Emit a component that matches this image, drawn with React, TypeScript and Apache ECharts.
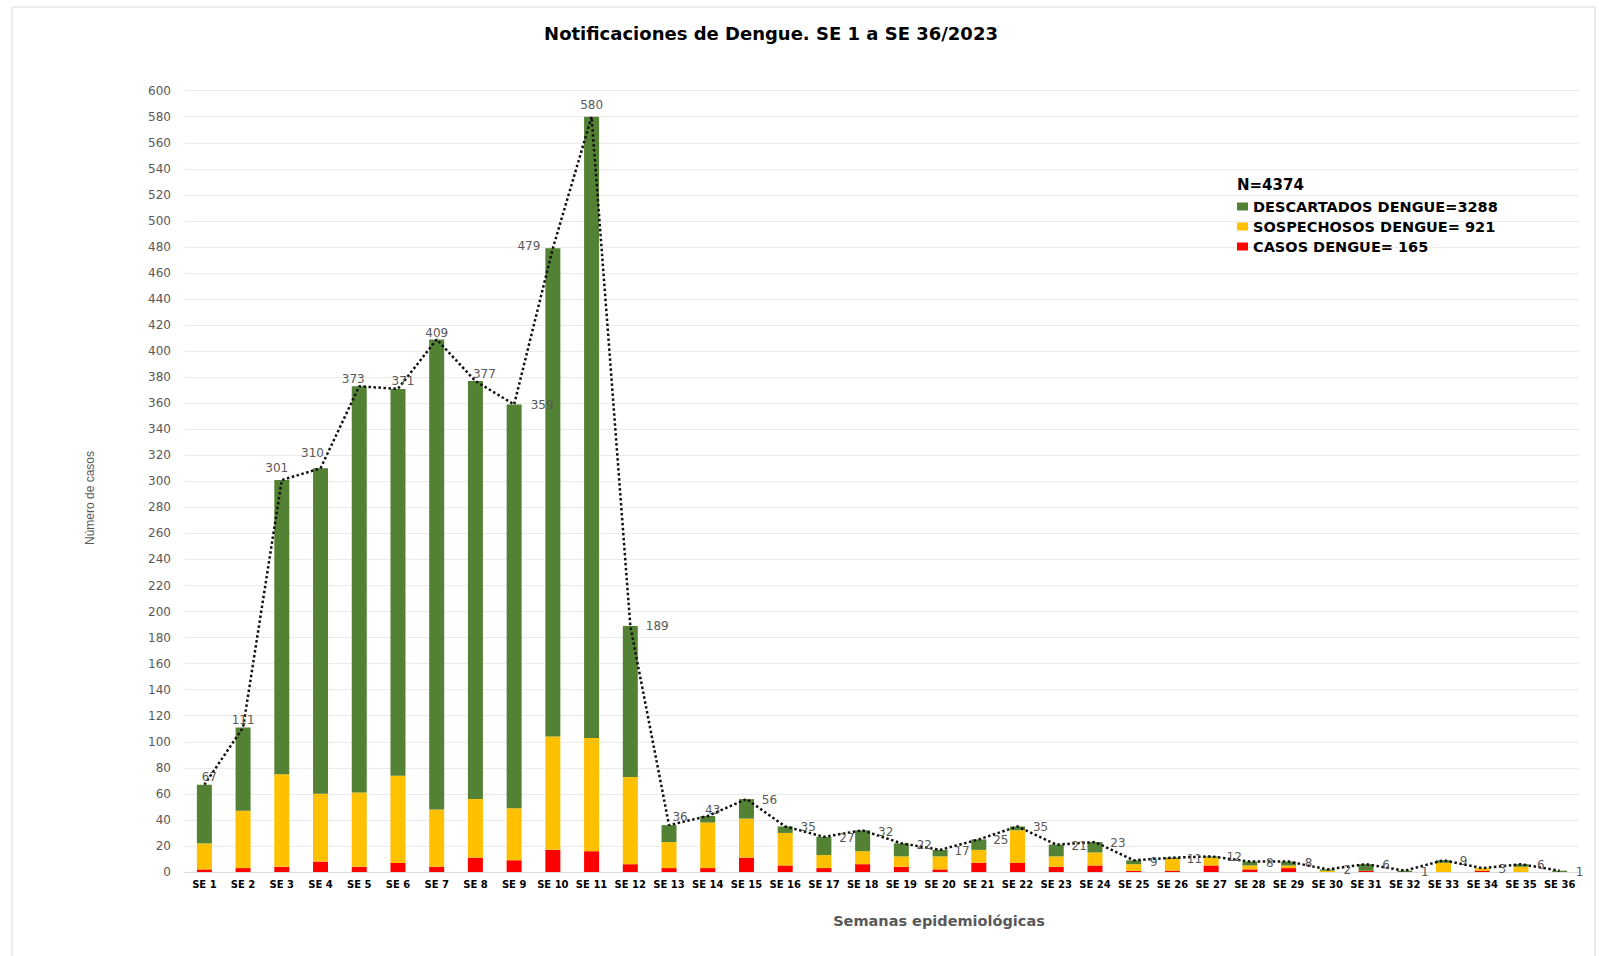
import React, { useEffect, useRef } from "react";
import * as echarts from "echarts";

const weeks = [
  "SE 1", "SE 2", "SE 3", "SE 4", "SE 5", "SE 6", "SE 7", "SE 8", "SE 9", "SE 10", "SE 11", "SE 12",
  "SE 13", "SE 14", "SE 15", "SE 16", "SE 17", "SE 18", "SE 19", "SE 20", "SE 21", "SE 22", "SE 23", "SE 24",
  "SE 25", "SE 26", "SE 27", "SE 28", "SE 29", "SE 30", "SE 31", "SE 32", "SE 33", "SE 34", "SE 35", "SE 36",
];

const casos = [2, 3, 4, 8, 4, 7, 4, 11, 9, 17, 16, 6, 3, 3, 11, 5, 3, 6, 4, 2, 7, 7, 4, 5, 1, 1, 5, 2, 3, 0, 1, 0, 0, 1, 0, 0];
const sospechosos = [20, 44, 71, 52, 57, 67, 44, 45, 40, 87, 87, 67, 20, 35, 30, 25, 10, 10, 8, 10, 10, 25, 8, 10, 5, 9, 6, 3, 2, 1, 0, 0, 7, 2, 4, 0];
const descartados = [45, 64, 226, 250, 312, 297, 361, 321, 310, 375, 477, 116, 13, 5, 15, 5, 14, 16, 10, 5, 8, 3, 9, 8, 3, 1, 1, 3, 3, 1, 5, 1, 2, 0, 2, 1];
const totales = [67, 111, 301, 310, 373, 371, 409, 377, 359, 479, 580, 189, 36, 43, 56, 35, 27, 32, 22, 17, 25, 35, 21, 23, 9, 11, 12, 8, 8, 2, 6, 1, 9, 3, 6, 1];

const yTicks = { min: 0, max: 600, interval: 20 };

const titleText = "Notificaciones de Dengue. SE 1 a SE 36/2023";
const nText = "N=4374";
const legendNames = ["DESCARTADOS DENGUE=3288", "SOSPECHOSOS DENGUE= 921", "CASOS DENGUE= 165"];
const yName = "Número de casos";
const xName = "Semanas epidemiológicas";

// label offsets (styling), relative to each point of the total line
const labelOffsets: number[][] = [
  [5, -8], [0, -7], [-5, -12], [-8, -15], [-6, -7], [5, -8], [0, -6], [9, -7], [28, 0], [-24, -2], [0, -12], [27, 0],
  [11, -8], [5, -6], [23, 1], [23, 1], [23, 1], [23, 2], [23, 2], [22, 1], [22, 1], [23, 1], [23, 1], [23, 1],
  [20, 2], [22, 1], [23, 1], [20, 1], [20, 1], [20, 1], [20, 1], [20, 1], [20, 1], [20, 1], [20, 1], [20, 1],
];

const FONT = "DejaVu Sans";

export default function App() {
  const ref = useRef<HTMLDivElement>(null);
  useEffect(() => {
    document.body.style.margin = "0";
    if (!ref.current) return;
    const chart = echarts.init(ref.current, undefined, { renderer: "svg" });
    const lineData = totales.map((v, i) => ({
      value: v,
      label: { offset: labelOffsets[i] },
    }));
    chart.setOption({
      animation: false,
      backgroundColor: "#ffffff",
      grid: { left: 185, right: 20, top: 90.7, bottom: 84, containLabel: false },
      legend: {
        orient: "vertical",
        left: 1232,
        top: 194,
        itemWidth: 11,
        itemHeight: 8,
        itemGap: 5,
        icon: "rect",
        data: legendNames,
        textStyle: { fontFamily: FONT, fontSize: 14.5, fontWeight: "bold", color: "#000", lineHeight: 15 },
      },
      xAxis: {
        type: "category",
        data: weeks,
        axisTick: { show: false },
        axisLine: { lineStyle: { color: "#d9d9d9", width: 1 } },
        axisLabel: { interval: 0, fontFamily: FONT, fontSize: 10, fontWeight: "bold", color: "#000", margin: 7 },
      },
      yAxis: {
        type: "value",
        min: yTicks.min,
        max: yTicks.max,
        interval: yTicks.interval,
        axisLine: { show: false },
        axisTick: { show: false },
        axisLabel: { fontFamily: FONT, fontSize: 12, color: "#595959", margin: 14 },
        splitLine: { lineStyle: { color: "#ebebeb", width: 1 } },
      },
      series: [
        {
          name: legendNames[2],
          type: "bar",
          stack: "total",
          barWidth: 15,
          data: casos,
          itemStyle: { color: "#FF0000" },
        },
        {
          name: legendNames[1],
          type: "bar",
          stack: "total",
          barWidth: 15,
          data: sospechosos,
          itemStyle: { color: "#FFC000" },
        },
        {
          name: legendNames[0],
          type: "bar",
          stack: "total",
          barWidth: 15,
          data: descartados,
          itemStyle: { color: "#548235" },
        },
        {
          name: "Total",
          type: "line",
          data: lineData,
          symbol: "circle",
          symbolSize: 1,
          itemStyle: { color: "rgba(0,0,0,0)" },
          lineStyle: { color: "#111111", width: 2.5, type: [2.5, 2.5] },
          z: 5,
          label: {
            show: true,
            position: "inside",
            fontFamily: FONT,
            fontSize: 12,
            color: "#595959",
          },
          emphasis: { disabled: true },
        },
      ],
      graphic: [
        {
          type: "rect",
          shape: { x: 12, y: 7, width: 1583, height: 970 },
          style: { fill: "none", stroke: "#d9d9d9", lineWidth: 1 },
          silent: true,
        },
        {
          type: "text",
          x: 771,
          y: 33,
          style: { text: titleText, fontFamily: FONT, fontSize: 18, fontWeight: "bold", fill: "#000", align: "center", verticalAlign: "middle" },
        },
        {
          type: "text",
          x: 1237,
          y: 185,
          style: { text: nText, fontFamily: FONT, fontSize: 15, fontWeight: "bold", fill: "#000", align: "left", verticalAlign: "middle" },
        },
        {
          type: "text",
          x: 939,
          y: 921,
          style: { text: xName, fontFamily: FONT, fontSize: 14.5, fontWeight: "bold", fill: "#595959", align: "center", verticalAlign: "middle" },
        },
        {
          type: "text",
          x: 90,
          y: 498,
          rotation: Math.PI / 2,
          style: { text: yName, fontFamily: "Liberation Sans", fontSize: 12, fill: "#595959", align: "center", verticalAlign: "middle" },
        },
      ],
    });
    return () => chart.dispose();
  }, []);
  return <div ref={ref} style={{ width: 1599, height: 956 }} />;
}
